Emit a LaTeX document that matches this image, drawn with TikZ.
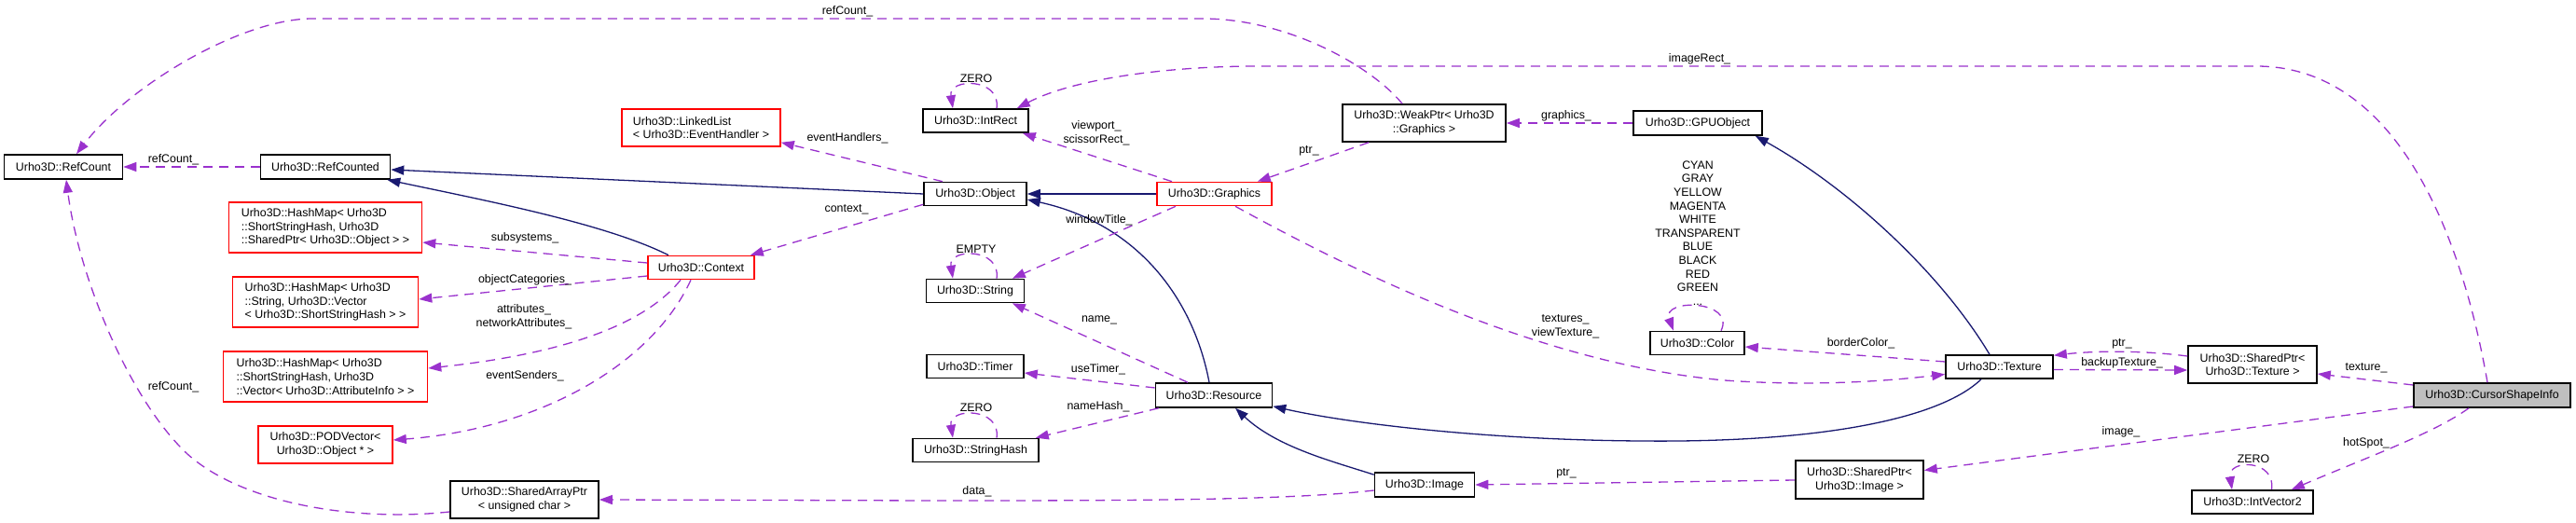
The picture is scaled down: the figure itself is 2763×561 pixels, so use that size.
\documentclass[tikz,border=0pt]{standalone}
\usepackage{fontspec}
\setmainfont{Liberation Sans}
\usetikzlibrary{arrows.meta}
\definecolor{edgepurple}{HTML}{9A32CD}
\definecolor{inhblue}{HTML}{191970}
\definecolor{cursorgray}{HTML}{BFBFBF}
\tikzset{
  cls/.style={draw=black, line width=1.6pt, fill=white, inner sep=0pt, rectangle, font=\fontsize{12.4}{14.6}\selectfont},
  redcls/.style={cls, draw=red},
  sz/.style 2 args={minimum width=#1, minimum height=#2},
  lbl/.style={inner sep=0pt, align=center, font=\fontsize{12.4}{14.6}\selectfont},
  uses/.style={draw=edgepurple, line width=1.3pt, dash pattern=on 10pt off 7pt, -{Triangle[length=14pt,width=10pt]}},
  inh/.style={draw=inhblue, line width=1.3pt, -{Triangle[length=14pt,width=10pt]}},
}
\begin{document}
\begin{tikzpicture}[x=1pt,y=-1pt]
\useasboundingbox (0,0) rectangle (2763,561);
% nodes
\node[cls, sz={127pt}{26pt}] (refcount) at (68,179) {Urho3D::RefCount};
\node[cls, sz={139pt}{26pt}] (refcounted) at (349,179) {Urho3D::RefCounted};
\node[redcls, sz={207pt}{54pt}, align=left] (hmsub) at (349,244) {Urho3D::HashMap< Urho3D\\::ShortStringHash, Urho3D\\::SharedPtr< Urho3D::Object > >};
\node[redcls, sz={199pt}{54pt}, align=left] (hmcat) at (349,324) {Urho3D::HashMap< Urho3D\\::String, Urho3D::Vector\\< Urho3D::ShortStringHash > >};
\node[redcls, sz={219pt}{54pt}, align=left] (hmattr) at (349,404) {Urho3D::HashMap< Urho3D\\::ShortStringHash, Urho3D\\::Vector< Urho3D::AttributeInfo > >};
\node[redcls, sz={144pt}{40pt}, align=center] (podvec) at (349,477) {Urho3D::PODVector<\\Urho3D::Object * >};
\node[cls, sz={159pt}{40pt}, align=center] (sarr) at (562.5,536) {Urho3D::SharedArrayPtr\\< unsigned char >};
\node[redcls, sz={170pt}{40pt}, align=left] (llist) at (752,137) {Urho3D::LinkedList\\< Urho3D::EventHandler >};
\node[redcls, sz={114pt}{25pt}] (context) at (752,287) {Urho3D::Context};
\node[cls, sz={113pt}{25pt}] (intrect) at (1046.5,129.5) {Urho3D::IntRect};
\node[cls, sz={110pt}{25pt}] (object) at (1046,208) {Urho3D::Object};
\node[cls, sz={105pt}{25pt}] (string) at (1046,312) {Urho3D::String};
\node[cls, sz={104pt}{25pt}] (timer) at (1046,393) {Urho3D::Timer};
\node[cls, sz={135pt}{25pt}] (shash) at (1046.5,483) {Urho3D::StringHash};
\node[redcls, sz={123pt}{25pt}] (graphics) at (1302.5,208) {Urho3D::Graphics};
\node[cls, sz={125pt}{26pt}] (resource) at (1302,424) {Urho3D::Resource};
\node[cls, sz={107pt}{26pt}] (image) at (1528,520) {Urho3D::Image};
\node[cls, sz={175pt}{40pt}, align=center] (weakptr) at (1527.5,132) {Urho3D::WeakPtr< Urho3D\\::Graphics >};
\node[cls, sz={138pt}{26pt}] (gpu) at (1821,132) {Urho3D::GPUObject};
\node[cls, sz={101pt}{25pt}] (color) at (1820.5,368) {Urho3D::Color};
\node[cls, sz={137pt}{41pt}, align=center] (spimg) at (1994.5,514.5) {Urho3D::SharedPtr<\\Urho3D::Image >};
\node[cls, sz={115pt}{25pt}] (texture) at (2144.5,393.5) {Urho3D::Texture};
\node[cls, sz={138pt}{40pt}, align=center] (sptex) at (2416,391) {Urho3D::SharedPtr<\\Urho3D::Texture >};
\node[cls, fill=cursorgray, sz={168pt}{26pt}] (cursor) at (2673,424) {Urho3D::CursorShapeInfo};
\node[cls, sz={130pt}{25pt}] (ivec) at (2416,538.5) {Urho3D::IntVector2};

% inheritance
\draw[inh] (object.west) -- ([yshift=-3pt]refcounted.east);
\draw[inh] ([xshift=-35pt]context.north) .. controls (650,240) and (520,215) .. ([xshift=-4pt]refcounted.south east);
\draw[inh] (graphics.west) -- (object.east);
\draw[inh] ([xshift=-5pt]resource.north) .. controls (1280,320) and (1220,240) .. ([yshift=-6pt]object.east);
\draw[inh] ([xshift=-19.5pt]texture.south) .. controls (2080,450) and (1950,475) .. (1760,473) .. controls (1600,472) and (1450,455) .. ([yshift=2pt]resource.south east);
\draw[inh] ([yshift=-3pt]image.north west) .. controls (1430,495) and (1370,480) .. ([xshift=23pt]resource.south);
\draw[inh] ([xshift=-10.5pt]texture.north) .. controls (2080,290) and (1980,200) .. ([xshift=-8pt]gpu.south east);

% usage
\draw[uses] (refcounted.west) -- (refcount.east);
\node[lbl] (l1) at (186,171) {refCount\_};
\draw[uses] ([xshift=-23.5pt]weakptr.north) .. controls (1470,70) and (1380,20) .. (1290,20) -- (335,20) .. controls (260,20) and (140,90) .. ([xshift=14pt]refcount.north);
\node[lbl] (l2) at (909,12) {refCount\_};
\draw[uses] ([yshift=-13pt]sarr.west) .. controls (380,560) and (260,540) .. (201,487) .. controls (140,430) and (85,300) .. ([xshift=3pt]refcount.south);
\node[lbl] (l3) at (186,415) {refCount\_};
\draw[uses] ([xshift=-35pt]object.north) -- ([yshift=5pt]llist.south east);
\node[lbl] (l4) at (909,148) {eventHandlers\_};
\draw[uses] ([yshift=2pt]object.south west) -- ([xshift=-5pt]context.north east);
\node[lbl] (l5) at (908,225) {context\_};
\draw[uses] ([yshift=5pt]context.west) -- ([yshift=-16pt]hmsub.east);
\node[lbl] (l6) at (563,255) {subsystems\_};
\draw[uses] ([yshift=-9pt]context.west) -- ([yshift=3pt]hmcat.east);
\node[lbl] (l7) at (563,300) {objectCategories\_};
\draw[uses] ([xshift=-22pt]context.south) .. controls (690,350) and (600,380) .. ([yshift=9pt]hmattr.east);
\node[lbl] (l8) at (562,340) {attributes\_\\networkAttributes\_};
\draw[uses] ([xshift=-11pt]context.south) .. controls (700,390) and (580,460) .. ([yshift=5pt]podvec.east);
\node[lbl] (l9) at (563,403) {eventSenders\_};
\draw[uses] ([xshift=-45.5pt]graphics.north) -- ([xshift=-7pt]intrect.south east);
\node[lbl] (l10) at (1176,143) {viewport\_\\scissorRect\_};
\draw[uses] ([xshift=-41.5pt]graphics.south) -- ([xshift=-13.5pt]string.north east);
\node[lbl] (l11) at (1179,236) {windowTitle\_};
\draw[uses] ([xshift=-59.5pt]weakptr.south) -- ([xshift=-16pt]graphics.north east);
\node[lbl] (l12) at (1404,162) {ptr\_};
\draw[uses] (gpu.west) -- (weakptr.east);
\node[lbl] (l13) at (1680,124) {graphics\_};
\draw[uses] ([xshift=-5pt]cursor.north) .. controls (2640,250) and (2570,71) .. (2420,71) -- (1350,71) .. controls (1250,71) and (1150,85) .. ([xshift=-13pt]intrect.north east);
\node[lbl] (l14) at (1823,63) {imageRect\_};
\draw[uses] ([xshift=22.5pt]graphics.south) .. controls (1450,290) and (1650,390) .. (1850,408) .. controls (1950,415) and (2030,408) .. ([yshift=-8pt]texture.west);
\node[lbl] (l15) at (1679,350) {textures\_\\viewTexture\_};
\draw[uses] ([yshift=5.5pt]texture.west) -- ([yshift=-4pt]color.east);
\node[lbl] (l16) at (1996,368) {borderColor\_};
\draw[uses] ([xshift=25.5pt]color.north) .. controls +(16,-33) and +(-13,-35) .. ([xshift=-25.5pt]color.north);
\node[lbl] (l17) at (1821,250) {CYAN\\GRAY\\YELLOW\\MAGENTA\\WHITE\\TRANSPARENT\\BLUE\\BLACK\\RED\\GREEN\\...};
\draw[uses] ([yshift=9pt]sptex.west) .. controls (2300,376) and (2250,376) .. ([yshift=-1pt]texture.north east);
\node[lbl] (l18) at (2276,369) {ptr\_};
\draw[uses] ([yshift=-3pt]texture.east) -- ([yshift=-6pt]sptex.west);
\node[lbl] (l19) at (2276,389) {backupTexture\_};
\draw[uses] ([yshift=11pt]cursor.west) -- ([yshift=-10pt]sptex.east);
\node[lbl] (l20) at (2538,395) {texture\_};
\draw[uses] ([yshift=-12pt]cursor.west) -- ([yshift=10pt]spimg.east);
\node[lbl] (l21) at (2275,463) {image\_};
\draw[uses] ([xshift=-25pt]cursor.south) .. controls (2610,465) and (2540,490) .. ([xshift=-24pt]ivec.north east);
\node[lbl] (l22) at (2538,475) {hotSpot\_};
\draw[uses] ([xshift=20.5pt]ivec.north) .. controls +(5,-33) and +(-5,-33) .. ([xshift=-22pt]ivec.north);
\node[lbl] (l23) at (2417,492) {ZERO};
\draw[uses] ([yshift=-0.5pt]spimg.west) -- (image.east);
\node[lbl] (l24) at (1680,508) {ptr\_};
\draw[uses] ([yshift=-6pt]image.west) .. controls (1380,537) and (1200,537) .. (1000,537) -- (sarr.east);
\node[lbl] (l25) at (1048,527) {data\_};
\draw[uses] ([xshift=-28pt]resource.north) -- ([xshift=-13.5pt]string.south east);
\node[lbl] (l26) at (1179,343) {name\_};
\draw[uses] ([yshift=8pt]resource.west) -- ([yshift=-7pt]timer.east);
\node[lbl] (l27) at (1178,396) {useTimer\_};
\draw[uses] ([xshift=4pt]resource.south west) -- ([xshift=-4pt]shash.north east);
\node[lbl] (l28) at (1178,436) {nameHash\_};
\draw[uses] ([xshift=22.5pt]intrect.north) .. controls +(5,-33) and +(-5,-33) .. ([xshift=-24.5pt]intrect.north);
\node[lbl] (l29) at (1047,84) {ZERO};
\draw[uses] ([xshift=23pt]string.north) .. controls +(5,-33) and +(-5,-33) .. ([xshift=-24pt]string.north);
\node[lbl] (l30) at (1047,267) {EMPTY};
\draw[uses] ([xshift=22.5pt]shash.north) .. controls +(5,-33) and +(-5,-33) .. ([xshift=-24.5pt]shash.north);
\node[lbl] (l31) at (1047,437) {ZERO};
\end{tikzpicture}
\end{document}
